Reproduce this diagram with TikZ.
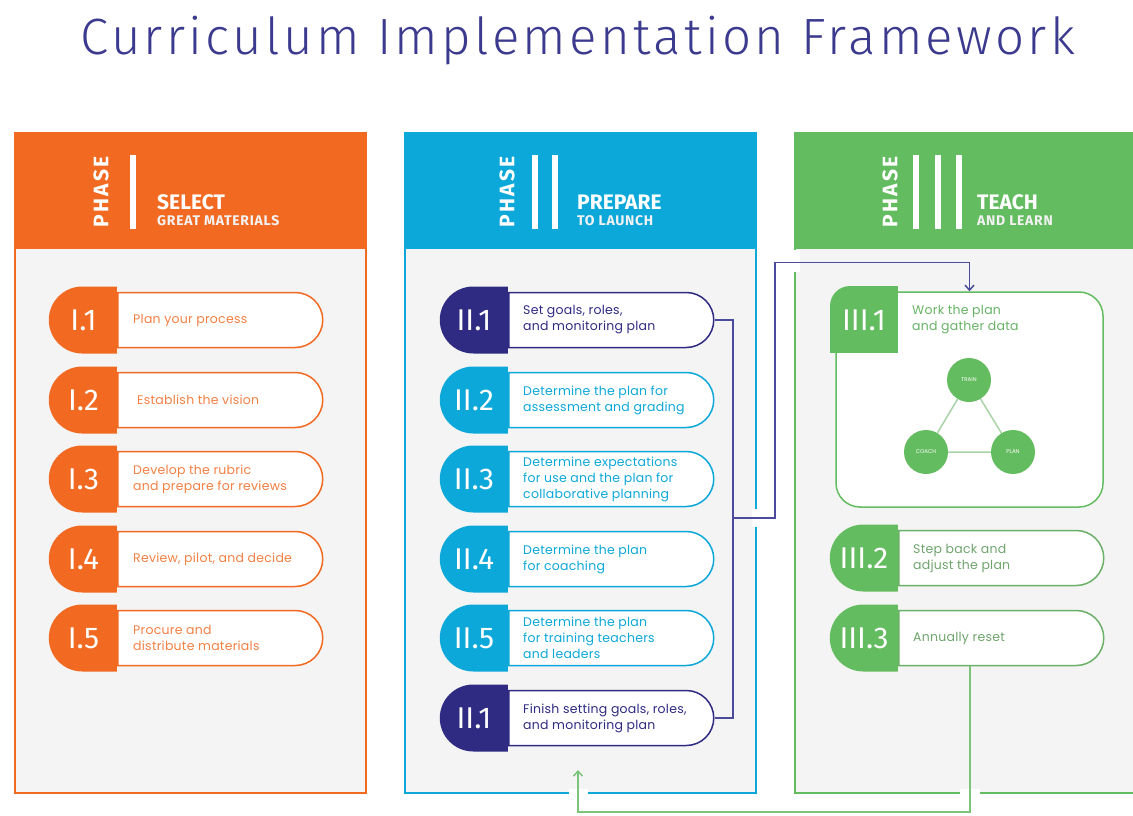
\documentclass[tikz,border=0pt]{standalone}
\usepackage{fontspec}
\setmainfont{Poppins}
\newfontfamily\firafont{Fira Sans}
\newfontfamily\titlefont{Fira Sans Light}
\usetikzlibrary{shapes.misc,arrows.meta}
\definecolor{titlecol}{HTML}{3B3A8E}
\definecolor{phaseone}{HTML}{F26A22}
\definecolor{phasetwo}{HTML}{0DA8DA}
\definecolor{phasenavy}{HTML}{2F2B82}
\definecolor{phasethree}{HTML}{64BC60}
\definecolor{bodycol}{HTML}{F4F4F4}
\definecolor{linkcol}{HTML}{4C4A9C}
\definecolor{backcol}{HTML}{7CC47A}
\definecolor{tricol}{HTML}{A9D3A6}
\tikzstyle{body}=[line width=2pt, fill=bodycol]
\tikzstyle{phaselbl}=[rotate=90, text=white, inner sep=0pt, font=\firafont\bfseries\addfontfeature{LetterSpace=10}\fontsize{21}{21}\selectfont]
\tikzstyle{headbig}=[anchor=base west, text=white, inner sep=0pt, font=\firafont\bfseries\fontsize{21}{21}\selectfont]
\tikzstyle{headsmall}=[anchor=base west, text=white!90!gray, inner sep=0pt, font=\firafont\bfseries\addfontfeature{LetterSpace=5}\fontsize{14}{14}\selectfont]
\tikzstyle{tab}=[rounded rectangle, rounded rectangle right arc=none, minimum width=68pt, minimum height=67pt, inner sep=0pt, anchor=east]
\tikzstyle{pill}=[rounded rectangle, rounded rectangle left arc=none, minimum width=205pt, minimum height=55pt, inner sep=0pt, fill=white, line width=1.5pt, anchor=west]
\tikzstyle{num}=[text=white, inner sep=0pt, font=\firafont\fontsize{30}{30}\selectfont]
\tikzstyle{itemtext}=[anchor=west, align=left, inner sep=0pt, font=\addfontfeature{LetterSpace=2}\fontsize{12.5}{16}\selectfont]
\tikzstyle{circ}=[circle, fill=phasethree, minimum size=44pt, inner sep=0pt, text=white, font=\fontsize{5.5}{6}\selectfont]
\tikzstyle{tri}=[line width=1.5pt, tricol]
\tikzstyle{link}=[line width=1.5pt, linkcol]
\tikzstyle{back}=[line width=1.5pt, backcol]

\begin{document}
\begin{tikzpicture}[x=1pt,y=-1pt]
	\useasboundingbox (0,0) rectangle (1133,816);
	\clip (0,0) rectangle (1133,816);

	\node[anchor=base, text=titlecol, inner sep=0pt, font=\titlefont\addfontfeature{LetterSpace=6.5}\fontsize{51}{51}\selectfont] (title) at (578,55) {Curriculum Implementation Framework};

	% Panels
	\draw[body, draw=phaseone] (15,248) rectangle (366,793);
	\fill[phaseone] (14,132) rectangle (367,248);
	\draw[body, draw=phasetwo] (405,248) rectangle (756,793);
	\fill[phasetwo] (404,132) rectangle (757,248);
	\draw[body, draw=phasethree] (795,248) rectangle (1150,793);
	\fill[phasethree] (794,132) rectangle (1150,248);

	% Headers
	\node[phaselbl] (ph1) at (101,192) {PHASE};
	\fill[white] (130,155) rectangle (136,229);
	\node[headbig] (h1a) at (157,209) {SELECT};
	\node[headsmall] (h1b) at (157,225) {GREAT MATERIALS};

	\node[phaselbl] (ph2) at (507,192) {PHASE};
	\fill[white] (532,155) rectangle (538,229);
	\fill[white] (552,155) rectangle (558,229);
	\node[headbig] (h2a) at (577,209) {PREPARE};
	\node[headsmall] (h2b) at (577,225) {TO LAUNCH};

	\node[phaselbl] (ph3) at (890,192) {PHASE};
	\fill[white] (913,155) rectangle (919,229);
	\fill[white] (935,155) rectangle (941,229);
	\fill[white] (956,155) rectangle (962,229);
	\node[headbig] (h3a) at (977,209) {TEACH};
	\node[headsmall] (h3b) at (977,225) {AND LEARN};

	% Phase I
	\node[pill, draw=phaseone] (p11) at (117,320) {};
	\node[tab, fill=phaseone] (t11) at (117,320) {};
	\node[num] (n11) at (83.5,320) {I.1};
	\node[itemtext, text=phaseone!85!white] (x11) at (133,320) {Plan your process};

	\node[pill, draw=phaseone] (p12) at (117,400) {};
	\node[tab, fill=phaseone] (t12) at (117,400) {};
	\node[num] (n12) at (83.5,400) {I.2};
	\node[itemtext, text=phaseone!85!white] (x12) at (137,400) {Establish the vision};

	\node[pill, draw=phaseone] (p13) at (117,479) {};
	\node[tab, fill=phaseone] (t13) at (117,479) {};
	\node[num] (n13) at (83.5,479) {I.3};
	\node[itemtext, text=phaseone!85!white] (x13) at (133,479) {Develop the rubric\\and prepare for reviews};

	\node[pill, draw=phaseone] (p14) at (117,559) {};
	\node[tab, fill=phaseone] (t14) at (117,559) {};
	\node[num] (n14) at (83.5,559) {I.4};
	\node[itemtext, text=phaseone!85!white] (x14) at (133,559) {Review, pilot, and decide};

	\node[pill, draw=phaseone] (p15) at (117,638) {};
	\node[tab, fill=phaseone] (t15) at (117,638) {};
	\node[num] (n15) at (83.5,638) {I.5};
	\node[itemtext, text=phaseone!85!white] (x15) at (133,638) {Procure and\\distribute materials};

	% Phase II
	\node[pill, draw=phasenavy] (p21) at (508,320) {};
	\node[tab, fill=phasenavy] (t21) at (508,320) {};
	\node[num] (n21) at (474,320) {II.1};
	\node[itemtext, text=phasenavy] (x21) at (523,320) {Set goals, roles,\\and monitoring plan};

	\node[pill, draw=phasetwo] (p22) at (508,400) {};
	\node[tab, fill=phasetwo] (t22) at (508,400) {};
	\node[num] (n22) at (474,400) {II.2};
	\node[itemtext, text=phasetwo] (x22) at (523,400) {Determine the plan for\\assessment and grading};

	\node[pill, draw=phasetwo] (p23) at (508,479) {};
	\node[tab, fill=phasetwo] (t23) at (508,479) {};
	\node[num] (n23) at (474,479) {II.3};
	\node[itemtext, text=phasetwo] (x23) at (523,479) {Determine expectations\\for use and the plan for\\collaborative planning};

	\node[pill, draw=phasetwo] (p24) at (508,559) {};
	\node[tab, fill=phasetwo] (t24) at (508,559) {};
	\node[num] (n24) at (474,559) {II.4};
	\node[itemtext, text=phasetwo] (x24) at (523,559) {Determine the plan\\for coaching};

	\node[pill, draw=phasetwo] (p25) at (508,638) {};
	\node[tab, fill=phasetwo] (t25) at (508,638) {};
	\node[num] (n25) at (474,638) {II.5};
	\node[itemtext, text=phasetwo] (x25) at (523,638) {Determine the plan\\for training teachers\\and leaders};

	\node[pill, draw=phasenavy] (p26) at (508,718) {};
	\node[tab, fill=phasenavy] (t26) at (508,718) {};
	\node[num] (n26) at (474,718) {II.1};
	\node[itemtext, text=phasenavy] (x26) at (523,718) {Finish setting goals, roles,\\and monitoring plan};

	% Phase III
	\node[draw=phasethree, fill=white, line width=1.5pt, rounded corners=24pt, minimum width=267pt, minimum height=215pt] (b31) at (969.5,399.5) {};
	\fill[phasethree] (850,306) circle (20);
	\fill[phasethree] (830,306) rectangle (898,353);
	\fill[phasethree] (850,286) rectangle (898,306);
	\node[num] (n31) at (864,320) {III.1};
	\node[itemtext, text=phasethree!85!gray] (x31) at (912,320) {Work the plan\\and gather data};

	\node[circ] (train) at (969,380) {TRAIN};
	\node[circ] (coach) at (926,452) {COACH};
	\node[circ] (plan) at (1013,452) {PLAN};
	\draw[tri] (train)--(coach) (coach)--(plan) (plan)--(train);

	\node[pill, draw=phasethree!80!gray] (p32) at (898,558) {};
	\node[tab, fill=phasethree] (t32) at (898,558) {};
	\node[num] (n32) at (864,558) {III.2};
	\node[itemtext, text=phasethree!60!gray] (x32) at (913,558) {Step back and\\adjust the plan};

	\node[pill, draw=phasethree!80!gray] (p33) at (898,638) {};
	\node[tab, fill=phasethree] (t33) at (898,638) {};
	\node[num] (n33) at (864,638) {III.3};
	\node[itemtext, text=phasethree!60!gray] (x33) at (913,638) {Annually reset};

	% Gaps where connectors cross borders
	\fill[white] (752,509) rectangle (760,527);
	\fill[white] (791,250) rectangle (800,272);
	\fill[white] (960,789) rectangle (980,797);
	\fill[white] (569,789) rectangle (588,797);

	% Connectors
	\coordinate (jn) at (733,518);
	\coordinate (ret) at (578,770);
	\draw[link] (p21.east) -| (jn) |- (p26.east);
	\draw[link, -{Straight Barb[length=5pt,width=9pt]}] (jn) -- ++(42,0) |- ([yshift=29pt]b31.north) -- (b31.north);
	\draw[back, -{Straight Barb[length=5pt,width=9pt]}] ([shift={(72pt,-27.5pt)}]p33.west) |- ([yshift=-42pt]ret) -- (ret);
\end{tikzpicture}
\end{document}
